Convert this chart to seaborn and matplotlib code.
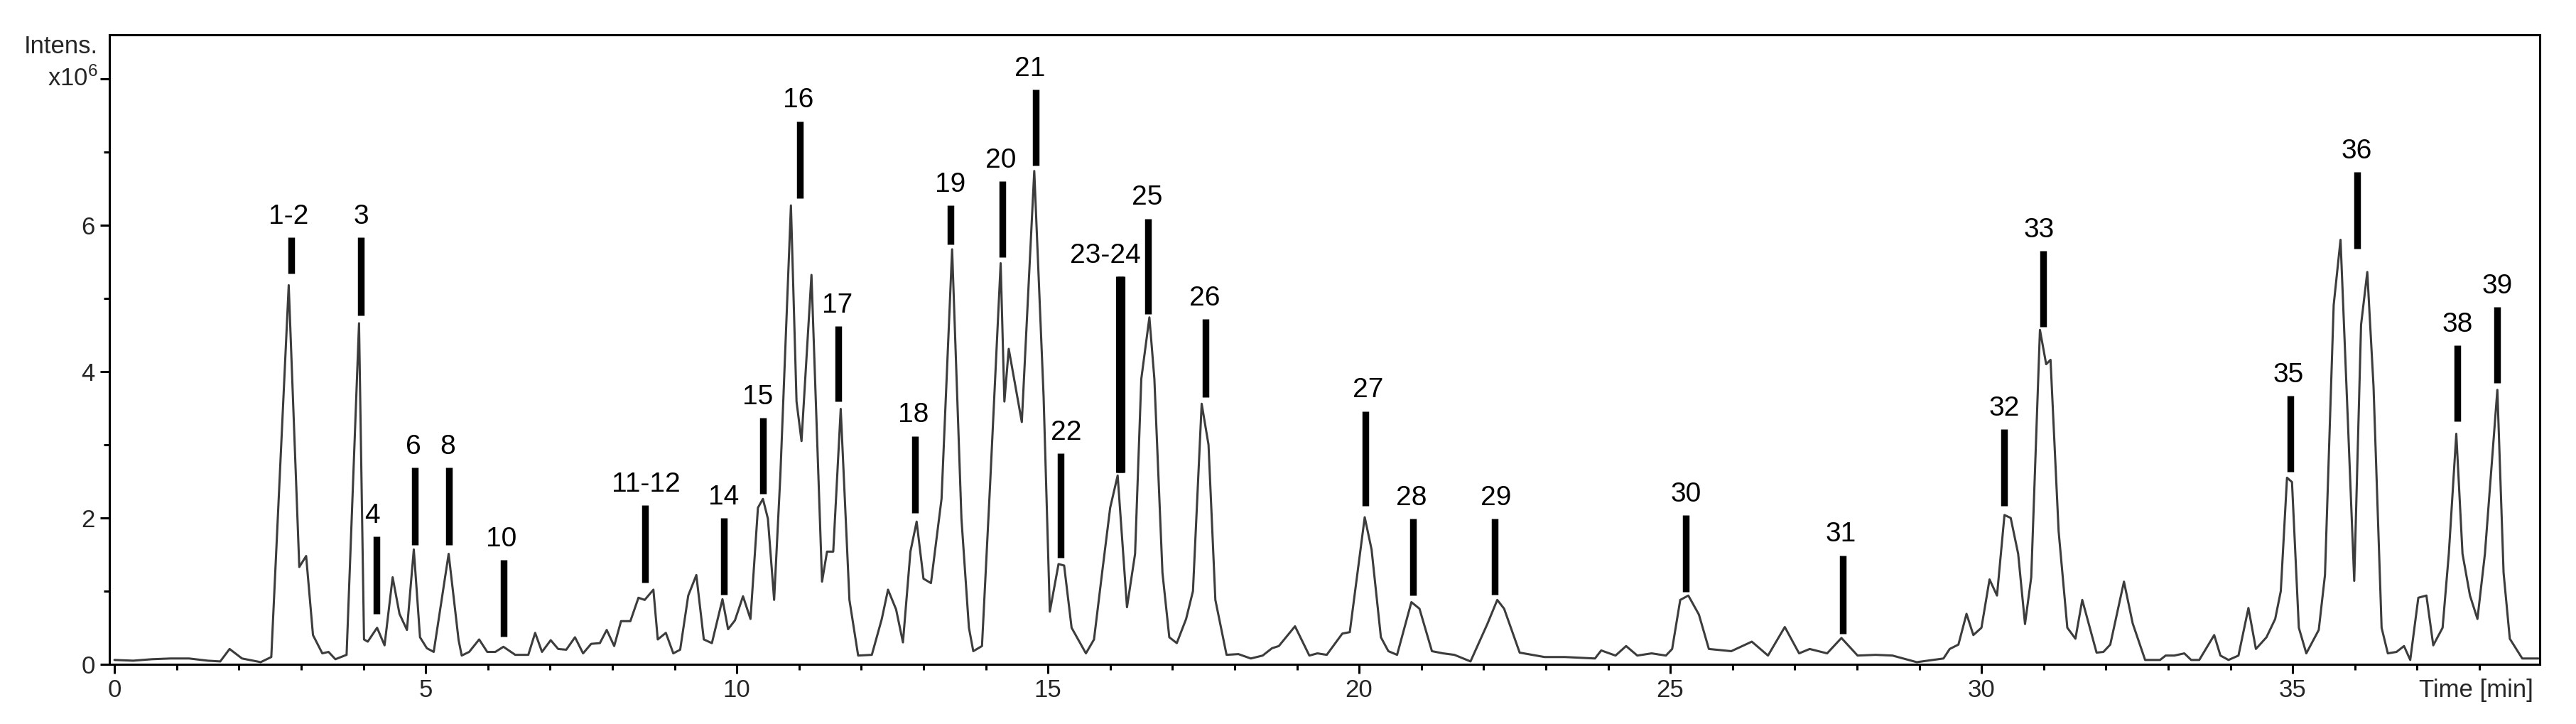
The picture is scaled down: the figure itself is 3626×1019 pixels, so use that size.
import matplotlib
matplotlib.use("Agg")
import matplotlib.pyplot as plt
from matplotlib.ticker import MultipleLocator, FixedLocator
import numpy as np
import pandas as pd
import seaborn as sns

# chromatogram trace (time in min, intensity x10^6)
time_min = [0.0, 0.3, 0.6, 0.9, 1.2, 1.5, 1.7, 1.85, 2.05, 2.35, 2.52, 2.80, 2.97, 3.08, 3.19,
            3.34, 3.44, 3.55, 3.73, 3.93, 4.01, 4.07, 4.22, 4.34, 4.47, 4.58, 4.70, 4.81, 4.91,
            5.02, 5.13, 5.37, 5.53, 5.58, 5.70, 5.86, 5.99, 6.12, 6.25, 6.44, 6.65, 6.76, 6.87,
            7.01, 7.13, 7.26, 7.40, 7.53, 7.66, 7.80, 7.91, 8.03, 8.14, 8.29, 8.42, 8.52, 8.66,
            8.73, 8.86, 8.98, 9.09, 9.22, 9.35, 9.47, 9.60, 9.77, 9.86, 9.97, 10.1, 10.22, 10.34,
            10.42, 10.5, 10.6, 10.7, 10.87, 10.96, 11.04, 11.2, 11.37, 11.45, 11.55, 11.67,
            11.81, 11.95, 12.17, 12.33, 12.43, 12.56, 12.67, 12.79, 12.89, 13.0, 13.12, 13.29,
            13.46, 13.61, 13.73, 13.8, 13.94, 14.07, 14.24, 14.30, 14.37, 14.58, 14.78, 14.93,
            15.03, 15.17, 15.26, 15.38, 15.61, 15.74, 15.87, 16.0, 16.12, 16.27, 16.4, 16.5,
            16.63, 16.71, 16.84, 16.95, 17.07, 17.22, 17.33, 17.47, 17.58, 17.69, 17.87, 18.06,
            18.26, 18.45, 18.6, 18.71, 18.97, 19.2, 19.33, 19.48, 19.73, 19.85, 20.09, 20.2,
            20.35, 20.47, 20.61, 20.84, 20.97, 21.17, 21.35, 21.53, 21.79, 22.06, 22.22, 22.33,
            22.58, 22.98, 23.31, 23.79, 23.89, 24.12, 24.29, 24.47, 24.7, 24.93, 25.03, 25.16,
            25.29, 25.46, 25.62, 25.98, 26.31, 26.57, 26.84, 27.07, 27.24, 27.52, 27.75, 28.01,
            28.3, 28.57, 28.96, 29.39, 29.49, 29.63, 29.76, 29.87, 30.0, 30.13, 30.25, 30.37,
            30.47, 30.59, 30.7, 30.8, 30.94, 31.04, 31.11, 31.24, 31.38, 31.51, 31.62, 31.76,
            31.85, 31.96, 32.07, 32.29, 32.43, 32.63, 32.87, 32.96, 33.1, 33.26, 33.37, 33.5,
            33.74, 33.84, 33.97, 34.13, 34.29, 34.41, 34.58, 34.72, 34.81, 34.91, 34.99, 35.1,
            35.22, 35.42, 35.52, 35.66, 35.77, 35.89, 35.99, 36.1, 36.2, 36.3, 36.43, 36.53,
            36.67, 36.79, 36.89, 37.02, 37.15, 37.26, 37.41, 37.51, 37.63, 37.73, 37.85, 37.97,
            38.09, 38.29, 38.39, 38.49, 38.69, 38.95]
intensity = [0.06, 0.05, 0.07, 0.08, 0.08, 0.05, 0.04, 0.21, 0.08, 0.03, 0.1, 5.18, 1.33, 1.48, 0.40,
             0.15, 0.17, 0.07, 0.13, 4.66, 0.34, 0.31, 0.50, 0.26, 1.19, 0.69, 0.47, 1.57, 0.37,
             0.22, 0.17, 1.51, 0.33, 0.12, 0.17, 0.34, 0.17, 0.17, 0.24, 0.13, 0.13, 0.43, 0.17,
             0.33, 0.21, 0.2, 0.37, 0.15, 0.28, 0.29, 0.47, 0.25, 0.59, 0.59, 0.91, 0.88, 1.02,
             0.34, 0.43, 0.15, 0.2, 0.94, 1.22, 0.34, 0.29, 0.89, 0.48, 0.6, 0.93, 0.62, 2.14,
             2.26, 1.99, 0.88, 2.58, 6.27, 3.59, 3.05, 5.32, 1.13, 1.54, 1.54, 3.49,
             0.88, 0.12, 0.13, 0.62, 1.02, 0.75, 0.30, 1.54, 1.95, 1.17, 1.11, 2.26,
             5.67, 1.99, 0.50, 0.18, 0.25, 2.45, 5.48, 3.59, 4.31, 3.31, 6.74, 3.66,
             0.72, 1.37, 1.35, 0.50, 0.15, 0.34, 1.25, 2.14, 2.58, 0.78, 1.51, 3.9,
             4.74, 3.9, 1.25, 0.37, 0.29, 0.62, 1.0, 3.56, 3.0, 0.88, 0.13, 0.14,
             0.08, 0.12, 0.22, 0.25, 0.52, 0.12, 0.15, 0.13, 0.42, 0.44, 2.01, 1.57,
             0.37, 0.18, 0.13, 0.85, 0.76, 0.18, 0.15, 0.13, 0.04, 0.55, 0.88, 0.76,
             0.16, 0.1, 0.1, 0.08, 0.19, 0.12, 0.25, 0.12, 0.15, 0.12, 0.21, 0.88,
             0.94, 0.68, 0.21, 0.18, 0.31, 0.12, 0.51, 0.15, 0.21, 0.15, 0.36, 0.12,
             0.13, 0.12, 0.03, 0.08, 0.21, 0.27, 0.69, 0.4, 0.50, 1.16, 0.94, 2.04,
             2.0, 1.51, 0.55, 1.19, 4.57, 4.10, 4.16, 1.82, 0.5, 0.35, 0.88, 0.44,
             0.16, 0.17, 0.27, 1.13, 0.56, 0.06, 0.06, 0.12, 0.12, 0.15, 0.06, 0.06,
             0.40, 0.12, 0.06, 0.12, 0.77, 0.21, 0.37, 0.62, 1.0, 2.55, 2.49, 0.5,
             0.15, 0.47, 1.22, 4.91, 5.8, 3.28, 1.14, 4.64, 5.36, 3.8, 0.5, 0.15,
             0.17, 0.25, 0.06, 0.91, 0.94, 0.26, 0.50, 1.51, 3.15, 1.51, 0.94, 0.62,
             1.51, 3.75, 1.25, 0.35, 0.08, 0.08]

# peak markers: label text, label centre, bar position, bar top, bar bottom
peak_labels = ["1-2", "3", "4", "6", "8", "10", "11-12", "14", "15", "16", "17", "18", "19",
               "20", "21", "22", "23-24", "25", "26", "27", "28", "29", "30", "31", "32", "33",
               "35", "36", "38", "39"]
label_x = [2.80, 3.96, 4.14, 4.80, 5.35, 6.22, 8.54, 9.79, 10.34, 10.99, 11.61, 12.84, 13.43,
           14.24, 14.71, 15.29, 15.92, 16.59, 17.52, 20.14, 20.84, 22.20, 25.25, 27.74, 30.37,
           30.92, 34.93, 36.03, 37.65, 38.29]
bar_x = [2.84, 3.96, 4.21, 4.83, 5.37, 6.26, 8.53, 9.79, 10.42, 11.01, 11.63, 12.86, 13.43,
         14.27, 14.80, 15.20, 16.16, 16.61, 17.53, 20.10, 20.87, 22.18, 25.25, 27.77, 30.36,
         30.99, 34.97, 36.04, 37.65, 38.29]
bar_top = [5.83, 5.83, 1.75, 2.69, 2.69, 1.43, 2.17, 2.00, 3.37, 7.42, 4.62, 3.12, 6.27,
           6.60, 7.85, 2.88, 5.30, 6.09, 4.72, 3.46, 1.99, 1.99, 2.04, 1.49, 3.21,
           5.65, 3.67, 6.73, 4.36, 4.88]
bar_bottom = [5.34, 4.77, 0.69, 1.63, 1.63, 0.38, 1.12, 0.95, 2.33, 6.37, 3.59, 2.07, 5.74,
              5.56, 6.81, 1.46, 2.62, 4.79, 3.65, 2.16, 0.94, 0.95, 0.99, 0.42, 2.16,
              4.61, 2.63, 5.68, 3.32, 3.84]

x_major = [0, 5, 10, 15, 20, 25, 30, 35]
y_major = [0, 2, 4, 6, 8]
y_labels = ["0", "2", "4", "6", ""]

sns.set_style("ticks")
plt.rcParams['font.family'] = ['Liberation Sans', 'DejaVu Sans']
plt.rcParams['mathtext.fontset'] = 'custom'
plt.rcParams['mathtext.rm'] = 'Liberation Sans'
plt.rcParams['mathtext.it'] = 'Liberation Sans:italic'

fig = plt.figure(figsize=(36.26, 10.19), dpi=100)
fig.patch.set_facecolor('white')
ax = fig.add_axes([0.0425, 0.0824, 0.9434, 0.8695])

df = pd.DataFrame({'time': time_min, 'intensity': intensity})
sns.lineplot(data=df, x='time', y='intensity', ax=ax, color='#3c3c3c', lw=2.2,
             estimator=None, sort=False)

# black bars over the peaks
ax.vlines(bar_x, bar_bottom, bar_top, colors='black', lw=6.8)
i24 = peak_labels.index("23-24")
ax.vlines([bar_x[i24]], [bar_bottom[i24]], [bar_top[i24]], colors='black', lw=9.5)

for lab, lx, top in zip(peak_labels, label_x, bar_top):
    ax.annotate(lab, xy=(lx, top), xytext=(0, 8), textcoords='offset points',
                ha='center', va='bottom', fontsize=28, color='black')

ax.set_xlim(-0.08, 38.97)
ax.set_ylim(0, 8.6)
ax.xaxis.set_major_locator(FixedLocator(x_major))
ax.xaxis.set_minor_locator(MultipleLocator(1))
ax.yaxis.set_major_locator(FixedLocator(y_major))
ax.yaxis.set_minor_locator(FixedLocator([1, 3, 5, 7]))
ax.set_yticklabels(y_labels)
ax.set_xlabel('')
ax.set_ylabel('')

ax.tick_params(which='major', length=9.5, width=2.2, labelsize=25, pad=5, color='black')
ax.tick_params(which='minor', length=5.8, width=2.2, color='black')
for sp in ax.spines.values():
    sp.set_visible(True)
    sp.set_linewidth(2.2)
    sp.set_color('black')

ax.annotate('Intens.', xy=(0, 8.44), xycoords=('axes fraction', 'data'),
            xytext=(-12, 0), textcoords='offset points', ha='right', va='center',
            fontsize=25)
ax.annotate(r'x10$^6$', xy=(0, 8.0), xycoords=('axes fraction', 'data'),
            xytext=(-12, 0), textcoords='offset points', ha='right', va='center',
            fontsize=25)
ax.annotate('Time [min]', xy=(1, 0), xycoords='axes fraction',
            xytext=(-6.5, -26.6), textcoords='offset points', ha='right', va='center',
            fontsize=25)

fig.savefig('out.png', dpi=100, facecolor='white')
